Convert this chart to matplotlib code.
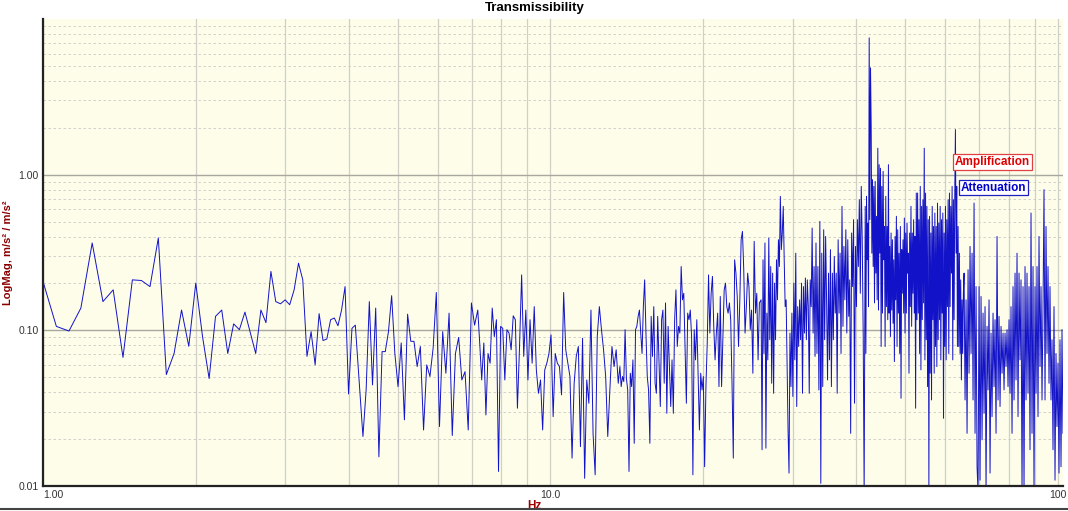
import numpy as np
import matplotlib
matplotlib.use("Agg")
from matplotlib import pyplot as plt
from matplotlib.ticker import FixedLocator, NullFormatter, LogLocator

plt.rcParams['font.family'] = ['Liberation Sans', 'DejaVu Sans']

# 1.0 - 4.125 Hz, 0.0625 Hz bins
mag_lo = [0.206, 0.106, 0.099, 0.139, 0.364, 0.153, 0.182, 0.067, 0.211, 0.209,
          0.191, 0.392, 0.052, 0.071, 0.135, 0.079, 0.201, 0.091, 0.049, 0.123,
          0.135, 0.071, 0.110, 0.101, 0.131, 0.096, 0.071, 0.135, 0.112, 0.239,
          0.153, 0.148, 0.157, 0.146, 0.182, 0.270, 0.211, 0.068, 0.098, 0.060,
          0.128, 0.086, 0.088, 0.117, 0.120, 0.107, 0.135, 0.191, 0.039, 0.103,
          0.108]

# readings, segment by segment (start Hz, end Hz)
seg_a = (4.27, 7.19)
mag_a = [0.0208, 0.0414, 0.153, 0.0446, 0.139, 0.0154, 0.073, 0.073, 0.098, 0.167,
         0.071, 0.0435, 0.083, 0.0266, 0.127, 0.085, 0.085, 0.0585, 0.0787, 0.0229,
         0.060, 0.0505, 0.0768, 0.175, 0.0241, 0.098, 0.053, 0.129, 0.0211, 0.071,
         0.090, 0.048, 0.0543, 0.0229, 0.150, 0.108, 0.135]

seg_b = (7.25, 13.6)
mag_b = [0.0848, 0.048, 0.083, 0.0286, 0.071, 0.0615, 0.139, 0.0912, 0.117, 0.0124,
         0.106, 0.103, 0.048, 0.101, 0.096, 0.075, 0.124, 0.117, 0.0316, 0.0787,
         0.227, 0.068, 0.135, 0.048, 0.117, 0.0615, 0.142, 0.0557, 0.0394, 0.048,
         0.0229, 0.0557, 0.0615, 0.071, 0.0935, 0.0279, 0.071, 0.0615, 0.0585, 0.0385,
         0.175, 0.075, 0.0615, 0.0505, 0.0151, 0.0457, 0.068, 0.0787, 0.0179, 0.089,
         0.0112, 0.048, 0.034, 0.135, 0.0218, 0.0118, 0.0912, 0.142, 0.101, 0.075,
         0.0505, 0.0208, 0.0414, 0.0787, 0.0585, 0.075, 0.0457]

seg_c = (13.7, 25.8)
mag_c = [0.0585, 0.0435, 0.0505, 0.0469, 0.101, 0.0492, 0.0414, 0.0124, 0.053, 0.0435,
         0.0646, 0.0188, 0.101, 0.106, 0.123, 0.135, 0.096, 0.071, 0.142, 0.211,
         0.096, 0.0505, 0.0414, 0.0188, 0.123, 0.068, 0.142, 0.0457, 0.0394, 0.123,
         0.0615, 0.0324, 0.117, 0.135, 0.0457, 0.150, 0.0293, 0.106, 0.0585, 0.0324,
         0.0646, 0.0293, 0.117, 0.182, 0.0787, 0.106, 0.096, 0.257, 0.157, 0.173,
         0.075, 0.034, 0.129, 0.117, 0.135, 0.0912, 0.0118, 0.101, 0.0646, 0.117,
         0.053, 0.0229, 0.053, 0.0414, 0.0505, 0.0133, 0.0435, 0.0827, 0.227, 0.096,
         0.173, 0.222, 0.106, 0.0646, 0.096, 0.129, 0.0435, 0.165, 0.0435, 0.0912,
         0.182, 0.201, 0.142, 0.129, 0.150, 0.117, 0.0457, 0.0151, 0.284, 0.233,
         0.165, 0.0787, 0.157, 0.382, 0.432, 0.245, 0.096, 0.142, 0.233, 0.191,
         0.101, 0.135, 0.053, 0.373, 0.129, 0.173, 0.0646, 0.150]

seg_d = (26.0, 41.5)
mag_d = [0.157, 0.0171, 0.284, 0.071, 0.364, 0.0175, 0.129, 0.0646, 0.392, 0.087,
         0.257, 0.0457, 0.233, 0.0394, 0.201, 0.087, 0.284, 0.157, 0.382, 0.257,
         0.726, 0.330, 0.422, 0.626, 0.284, 0.142, 0.157, 0.0585, 0.0229, 0.0121,
         0.096, 0.0435, 0.129, 0.0376, 0.201, 0.0646, 0.313, 0.0324, 0.142, 0.0787,
         0.157, 0.087, 0.201, 0.0394, 0.191, 0.096, 0.217, 0.087, 0.211, 0.142,
         0.0394, 0.211, 0.142, 0.454, 0.096, 0.257, 0.068, 0.364, 0.071, 0.257,
         0.0414, 0.501, 0.0104, 0.313, 0.0435, 0.443, 0.087, 0.401, 0.157, 0.048,
         0.233, 0.0646, 0.330, 0.0435, 0.233, 0.087, 0.298, 0.129, 0.233, 0.0394,
         0.382, 0.129, 0.313, 0.071, 0.626, 0.106, 0.346, 0.157, 0.443, 0.096,
         0.382, 0.123, 0.211, 0.0218, 0.422, 0.191, 0.514, 0.034, 0.346, 0.142,
         0.514, 0.257, 0.691, 0.173, 0.841, 0.382, 0.096, 0.009]

seg_e = (41.7, 65.1)
mag_e = [0.626, 0.071, 0.726, 0.284, 0.489, 0.142, 7.57, 0.514, 4.85, 2.05,
         0.313, 0.929, 0.257, 0.841, 0.150, 0.906, 0.233, 0.540, 0.157, 1.48,
         0.135, 1.16, 0.313, 1.10, 0.0787, 0.841, 0.129, 1.05, 0.284, 0.465,
         0.0787, 0.726, 0.142, 0.465, 0.117, 1.16, 0.129, 0.346, 0.0912, 0.422,
         0.135, 0.382, 0.111, 0.284, 0.063, 0.401, 0.157, 0.540, 0.0787, 0.443,
         0.129, 0.313, 0.071, 0.465, 0.0366, 0.330, 0.173, 0.382, 0.129, 0.527,
         0.096, 0.422, 0.129, 0.489, 0.233, 0.313, 0.053, 0.422, 0.142, 0.626,
         0.106, 0.422, 0.173, 0.514, 0.129, 0.401, 0.0316, 0.762, 0.117, 0.762,
         0.129, 0.514, 0.071, 0.841, 0.0557, 0.626, 0.117, 0.691, 0.150, 1.48,
         0.0646, 0.762, 0.087, 0.626, 0.0435, 0.514, 0.0095, 0.540, 0.053, 0.422,
         0.0357, 0.626, 0.117, 0.465, 0.053, 0.567, 0.0787, 0.465, 0.0585, 0.657,
         0.087, 0.489, 0.117, 0.626, 0.0646, 0.514, 0.129, 0.567, 0.0272, 0.422,
         0.0787, 0.626, 0.0646, 0.514, 0.142, 0.691, 0.071, 0.762, 0.142, 0.626,
         0.233, 0.841, 0.0646, 0.691, 0.117, 0.726, 1.95, 0.313, 0.841, 0.0787,
         0.465, 0.0787, 0.313, 0.071, 0.211, 0.048, 0.157, 0.071, 0.173]

seg_f = (65.3, 102.3)
mag_f = [0.233, 0.0357, 0.157, 0.0218, 0.245, 0.053, 0.346, 0.071, 0.313, 0.0357,
         0.657, 0.0218, 0.191, 0.0133, 0.009, 0.191, 0.0109, 0.165, 0.0198, 0.129,
         0.0293, 0.142, 0.009, 0.106, 0.0414, 0.157, 0.0121, 0.096, 0.0279, 0.129,
         0.0435, 0.117, 0.0218, 0.401, 0.0357, 0.123, 0.0324, 0.106, 0.053, 0.096,
         0.0414, 0.096, 0.0585, 0.101, 0.0435, 0.117, 0.0394, 0.142, 0.0218, 0.191,
         0.0357, 0.233, 0.048, 0.313, 0.0279, 0.233, 0.0646, 0.211, 0.009, 0.191,
         0.009, 0.257, 0.0357, 0.233, 0.0394, 0.191, 0.0171, 0.567, 0.0218, 0.257,
         0.009, 0.191, 0.0394, 0.257, 0.0279, 0.401, 0.0585, 0.191, 0.0357, 0.142,
         0.801, 0.0357, 0.465, 0.071, 0.257, 0.0457, 0.191, 0.0357, 0.087, 0.0171,
         0.142, 0.0109, 0.071, 0.0241, 0.0615, 0.0121, 0.087, 0.0133, 0.101, 0.0218]

x_ticks = [1, 10, 100]
x_labels = ['1.00', '10.0', '100']
y_ticks = [0.01, 0.1, 1]
y_labels = ['0.01', '0.10', '1.00']

freq = [1.0 + 0.0625 * np.arange(len(mag_lo))]
mag = [np.array(mag_lo)]
for seg, vals in [(seg_a, mag_a), (seg_b, mag_b), (seg_c, mag_c),
                  (seg_d, mag_d), (seg_e, mag_e), (seg_f, mag_f)]:
    freq.append(np.geomspace(seg[0], seg[1], len(vals)))
    mag.append(np.array(vals))
freq = np.concatenate(freq)
mag = np.concatenate(mag)

fig = plt.figure(figsize=(10.68, 5.11), dpi=100)
ax = fig.add_axes([43 / 1068, 25 / 511, 1020 / 1068, 467 / 511])
ax.set_facecolor('#fdfdea')

ax.plot(freq, mag, color='#1212c8', lw=0.7)

ax.set_xscale('log')
ax.set_yscale('log')
ax.set_xlim(1.0, 102.3)
ax.set_ylim(0.01, 10)

ax.xaxis.set_major_locator(FixedLocator(x_ticks))
ax.set_xticklabels(x_labels)
ax.xaxis.set_minor_locator(LogLocator(base=10, subs=np.arange(2, 10)))
ax.xaxis.set_minor_formatter(NullFormatter())
ax.yaxis.set_major_locator(FixedLocator(y_ticks))
ax.set_yticklabels(y_labels)
ax.yaxis.set_minor_locator(LogLocator(base=10, subs=np.arange(2, 10)))
ax.yaxis.set_minor_formatter(NullFormatter())
ax.tick_params(which='both', length=0, labelsize=7.5, labelcolor='#333333')
ax.tick_params(axis='x', pad=3)
ax.tick_params(axis='y', pad=3)
ax.get_xticklabels()[0].set_horizontalalignment('left')

ax.grid(which='major', axis='y', color='#a8a8a0', lw=1.0)
ax.grid(which='minor', axis='y', color='#cacac4', lw=0.6, ls=(0, (3, 3)))
ax.grid(which='both', axis='x', color='#d0d0c8', lw=0.9)
ax.set_axisbelow(True)

for s in ['top', 'right']:
    ax.spines[s].set_visible(False)
for s in ['left', 'bottom']:
    ax.spines[s].set_linewidth(1.6)
    ax.spines[s].set_color('#222222')

# title and Hz are centred on the figure, not the plot area
ax.set_title('Transmissibility', fontsize=9.5, fontweight='bold', x=0.482, pad=6)
ax.set_xlabel('Hz', fontsize=8.5, fontweight='bold', color='#a00000')
ax.xaxis.set_label_coords(0.482, -0.031)
ax.set_ylabel('LogMag, m/s² / m/s²', fontsize=8, fontweight='bold', color='#8b0000', labelpad=4)

ax.text(0.931, 0.694, 'Amplification', transform=ax.transAxes, ha='center', va='center',
        fontsize=8.5, fontweight='bold', color='#e00000',
        bbox=dict(boxstyle='square,pad=0.15', fc='white', ec='#e04040', lw=0.9))
ax.text(0.932, 0.639, 'Attenuation', transform=ax.transAxes, ha='center', va='center',
        fontsize=8.5, fontweight='bold', color='#0000cc',
        bbox=dict(boxstyle='square,pad=0.15', fc='white', ec='#2020c0', lw=0.9))

fig.add_artist(plt.Line2D([0, 1], [0.003, 0.003], color='#444444', lw=1.5,
                          transform=fig.transFigure))

fig.savefig('out.png', dpi=100)
